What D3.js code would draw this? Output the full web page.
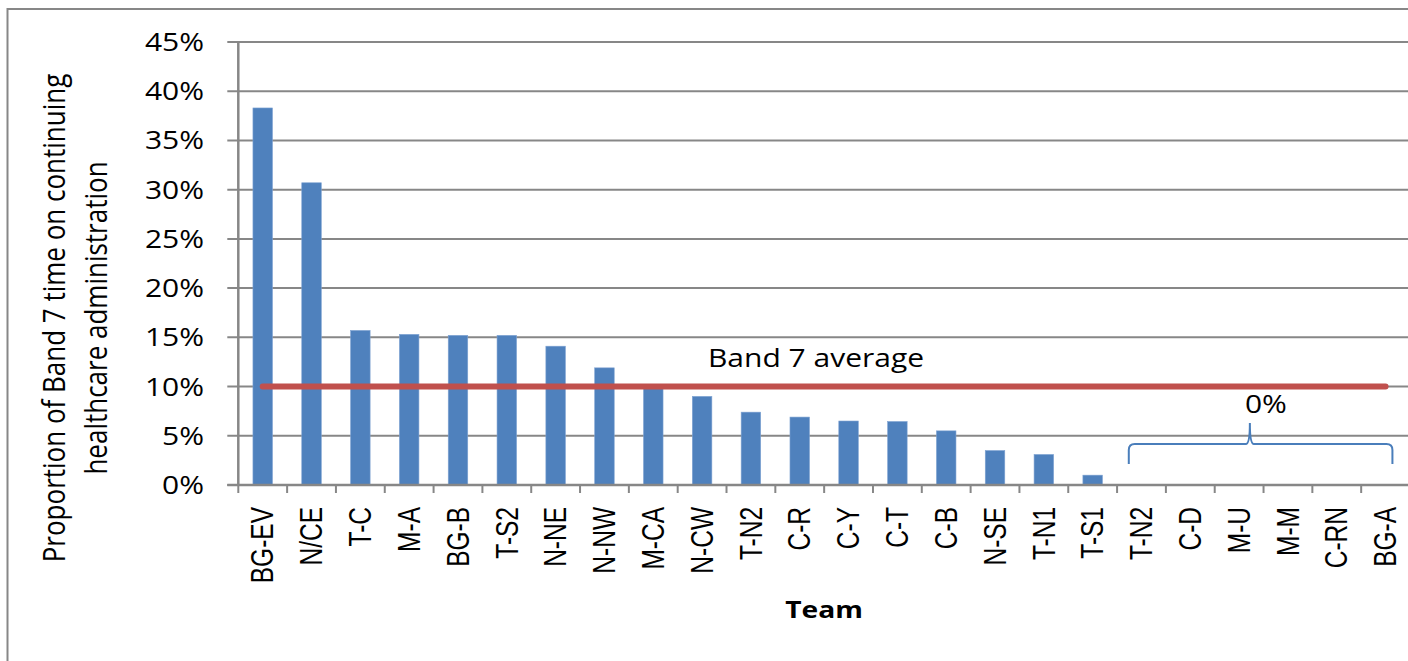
<!DOCTYPE html>
<html>
<head>
<meta charset="utf-8">
<script src="https://cdn.jsdelivr.net/npm/d3@7"></script>
<style>
  html, body { margin: 0; padding: 0; background: #fff; }
  svg { display: block; }
</style>
</head>
<body>
<svg id="chart" width="1408" height="661"></svg>
<script>
// ---- data ----
const teams = ["BG-EV","N/CE","T-C","M-A","BG-B","T-S2","N-NE","N-NW","M-CA","N-CW","T-N2","C-R","C-Y","C-T","C-B","N-SE","T-N1","T-S1","T-N2","C-D","M-U","M-M","C-RN","BG-A"];
const proportions = [0.383,0.307,0.157,0.153,0.152,0.152,0.141,0.119,0.099,0.090,0.074,0.069,0.065,0.0645,0.055,0.035,0.031,0.010,0,0,0,0,0,0];
const yTicks = [0,0.05,0.10,0.15,0.20,0.25,0.30,0.35,0.40,0.45];
const band7Average = 0.10;
const averageLabel = "Band 7 average";
const zeroLabel = "0%";
const yTitle = ["Proportion of Band 7 time on continuing", "healthcare administration"];
const xTitle = "Team";

(function () {
// ---- layout ----
const SX = 1.2;               // horizontal stretch of the original picture
const SXL = 1.28;             // stretch for rotated category labels
const pLeft = 238.3, pRight = 1410, pTop = 42, pBottom = 485;
const svg = d3.select("#chart");

const x = d3.scaleBand().domain(d3.range(teams.length)).range([pLeft, pRight]).padding(0);
const y = d3.scaleLinear().domain([0, 0.45]).range([pBottom, pTop]);
const step = x.step();
const barW = step * 0.4;
const gray = "#878787";

// outer border
svg.append("rect").attr("x", 7.5).attr("y", 9).attr("width", 1500).attr("height", 700)
  .attr("fill", "none").attr("stroke", gray).attr("stroke-width", 2);

// gridlines + y ticks
svg.append("g").selectAll("line").data(yTicks).join("line")
  .attr("x1", pLeft - 11).attr("x2", pRight)
  .attr("y1", d => y(d)).attr("y2", d => y(d))
  .attr("stroke", gray).attr("stroke-width", 2);

// y tick labels
svg.append("g").selectAll("text").data(yTicks).join("text")
  .attr("transform", d => `translate(204,${y(d) + 9}) scale(${SX},1)`)
  .attr("text-anchor", "end")
  .attr("font-family", "'Open Sans', sans-serif").attr("font-size", 25).attr("fill", "#000")
  .text(d => d3.format(".0%")(d));

// bars
svg.append("g").selectAll("rect").data(proportions).join("rect")
  .attr("x", (d, i) => x(i) + (step - barW) / 2)
  .attr("width", barW)
  .attr("y", d => y(d))
  .attr("height", d => y(0) - y(d))
  .attr("fill", "#4f81bd")
  .attr("stroke", "#7fa3d2").attr("stroke-width", 0.6);

// axes lines
svg.append("line").attr("x1", pLeft).attr("x2", pLeft).attr("y1", pTop).attr("y2", pBottom)
  .attr("stroke", gray).attr("stroke-width", 2.5);
svg.append("line").attr("x1", pLeft - 11).attr("x2", pRight).attr("y1", pBottom).attr("y2", pBottom)
  .attr("stroke", gray).attr("stroke-width", 2.5);

// x ticks at category boundaries
const bounds = d3.range(teams.length + 1).map(i => i < teams.length ? x(i) : x(teams.length - 1) + step);
svg.append("g").selectAll("line").data(bounds).join("line")
  .attr("x1", d => d).attr("x2", d => d).attr("y1", pBottom).attr("y2", pBottom + 8)
  .attr("stroke", gray).attr("stroke-width", 2);

// x labels rotated
svg.append("g").selectAll("text").data(teams).join("text")
  .attr("transform", (d, i) => `translate(${x(i) + step / 2 + 10.7},507) scale(${SXL},1) rotate(-90)`)
  .attr("text-anchor", "end")
  .attr("font-family", "'Liberation Sans', Arial, sans-serif").attr("font-size", 24.5).attr("fill", "#000")
  .text(d => d);

// average line
svg.append("line")
  .attr("x1", x(0) + step / 2).attr("x2", x(teams.length - 1) + step / 2)
  .attr("y1", y(band7Average)).attr("y2", y(band7Average))
  .attr("stroke", "#c0504d").attr("stroke-width", 6).attr("stroke-linecap", "round");

svg.append("text")
  .attr("transform", `translate(816,367) scale(${SX},1)`)
  .attr("text-anchor", "middle")
  .attr("font-family", "'Open Sans', sans-serif").attr("font-size", 25).attr("fill", "#000")
  .text(averageLabel);

// brace over the zero-valued teams
const firstZero = proportions.findIndex(v => v === 0);
const bx0 = x(firstZero) + step * 0.24;
const bx1 = x(teams.length - 1) + step * 0.64;
const bTip = x(firstZero + 2) + step * 0.72;
const byEnd = y(0) - 21, byMid = y(0) - 41, byTip = y(0) - 62;
const r = 6;
const brace = d3.path();
brace.moveTo(bx0, byEnd);
brace.lineTo(bx0, byMid + r);
brace.quadraticCurveTo(bx0, byMid, bx0 + r, byMid);
brace.lineTo(bTip - 4, byMid);
brace.quadraticCurveTo(bTip, byMid, bTip, byTip);
brace.quadraticCurveTo(bTip, byMid, bTip + 4, byMid);
brace.lineTo(bx1 - r, byMid);
brace.quadraticCurveTo(bx1, byMid, bx1, byMid + r);
brace.lineTo(bx1, byEnd);
svg.append("path").attr("d", brace.toString())
  .attr("fill", "none").attr("stroke", "#4a7ebb").attr("stroke-width", 2);

svg.append("text")
  .attr("transform", `translate(${bTip + 16},413) scale(${SX},1)`)
  .attr("text-anchor", "middle")
  .attr("font-family", "'Open Sans', sans-serif").attr("font-size", 25).attr("fill", "#000")
  .text(zeroLabel);

// axis titles
svg.append("g").selectAll("text").data(yTitle).join("text")
  .attr("transform", (d, i) => `translate(${i === 0 ? 65 : 107},318) scale(${SX},1) rotate(-90)`)
  .attr("text-anchor", "middle")
  .attr("font-family", "'Open Sans', sans-serif").attr("font-size", 26).attr("fill", "#000")
  .text(d => d);

svg.append("text")
  .attr("transform", `translate(824,618) scale(${SX},1)`)
  .attr("text-anchor", "middle")
  .attr("font-family", "'Open Sans', sans-serif").attr("font-weight", "bold").attr("font-size", 23.5).attr("fill", "#000")
  .text(xTitle);
})();
</script>
</body>
</html>
